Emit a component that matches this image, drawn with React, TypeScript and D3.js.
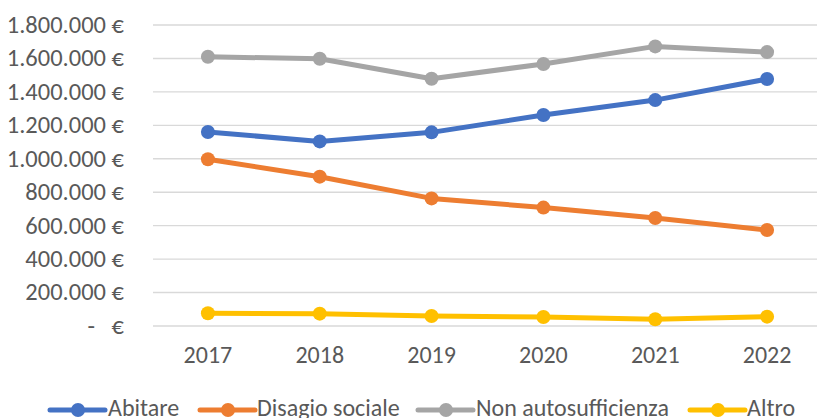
import * as d3 from 'd3';

const years = ['2017', '2018', '2019', '2020', '2021', '2022'];
const abitare = [1160000, 1104000, 1158000, 1262000, 1351000, 1477000];
const disagioSociale = [997000, 893000, 763000, 708000, 646000, 574000];
const nonAutosufficienza = [1610000, 1598000, 1479000, 1567000, 1672000, 1638000];
const altro = [76000, 74000, 60000, 54000, 40000, 56000];
const yTicks = [0, 200000, 400000, 600000, 800000, 1000000, 1200000, 1400000, 1600000, 1800000];

const SERIES = [
  { name: 'Abitare', values: abitare, color: '#4472C4' },
  { name: 'Disagio sociale', values: disagioSociale, color: '#ED7D31' },
  { name: 'Non autosufficienza', values: nonAutosufficienza, color: '#A5A5A5' },
  { name: 'Altro', values: altro, color: '#FFC000' },
];

const FONT = 'Carlito, "Liberation Sans Narrow", "Liberation Sans", sans-serif';
const TEXT = '#595959';
const W = 817;
const H = 418;

const fmt = (v: number) =>
  v === 0 ? '-   €' : d3.format(',')(v).replace(/,/g, '.') + ' €';

export default function App() {
  const x = d3.scalePoint<string>().domain(years).range([152, 823]).padding(0.5);
  const y = d3.scaleLinear().domain([0, 1800000]).range([326, 25]);
  const line = d3.line<number>()
    .x((_, i) => x(years[i])!)
    .y(d => y(d));

  // legend layout: line start, text start
  const legendPos = [
    { lx: 50, tx: 108 },
    { lx: 200, tx: 257 },
    { lx: 418, tx: 476 },
    { lx: 690, tx: 747 },
  ];

  return (
    <svg width={W} height={H} style={{ position: 'absolute', left: 0, top: 0, background: '#fff' }}
      fontFamily={FONT}>
      {/* grid */}
      {yTicks.map(t => (
        <line key={t} x1={153} x2={W} y1={y(t)} y2={y(t)} stroke="#D9D9D9" strokeWidth={1.4} />
      ))}
      {/* y labels */}
      {yTicks.map(t => (
        <text key={t} x={124} y={y(t)} dy="0.32em" textAnchor="end" fontSize={24.5}
          fill={TEXT} style={{ whiteSpace: 'pre' }}>{fmt(t)}</text>
      ))}
      {/* x labels */}
      {years.map(yr => (
        <text key={yr} x={x(yr)} y={363} textAnchor="middle" fontSize={24} fill={TEXT}>{yr}</text>
      ))}
      {/* series */}
      {SERIES.map(s => (
        <g key={s.name}>
          <path d={line(s.values)!} fill="none" stroke={s.color} strokeWidth={5}
            strokeLinejoin="round" strokeLinecap="round" />
          {s.values.map((v, i) => (
            <circle key={i} cx={x(years[i])} cy={y(v)} r={7} fill={s.color} />
          ))}
        </g>
      ))}
      {/* legend */}
      {SERIES.map((s, i) => (
        <g key={s.name}>
          <line x1={legendPos[i].lx} x2={legendPos[i].lx + 55} y1={410} y2={410}
            stroke={s.color} strokeWidth={5} strokeLinecap="round" />
          <circle cx={legendPos[i].lx + 28} cy={410} r={7} fill={s.color} />
          <text x={legendPos[i].tx} y={416} fontSize={24} fill={TEXT}>{s.name}</text>
        </g>
      ))}
    </svg>
  );
}
